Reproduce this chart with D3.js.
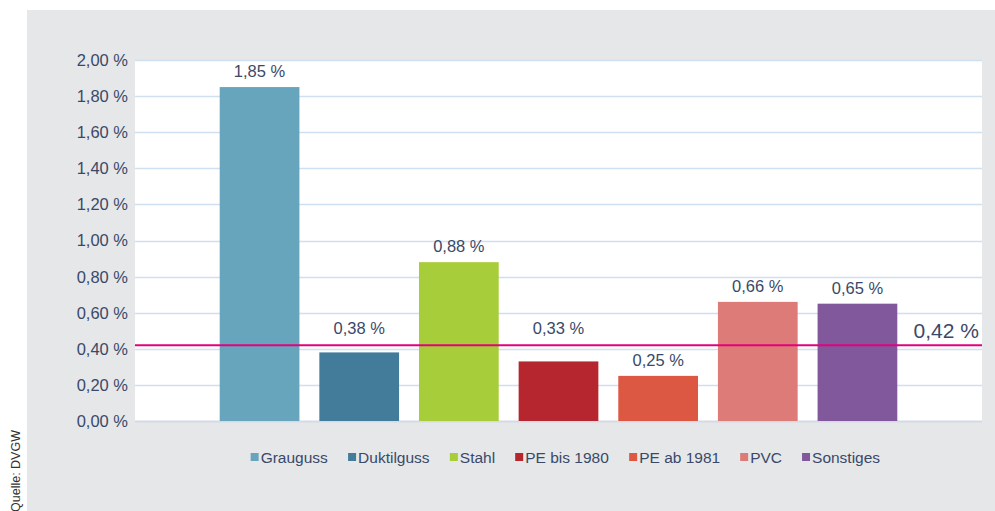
<!DOCTYPE html>
<html>
<head>
<meta charset="utf-8">
<script src="https://cdn.jsdelivr.net/npm/d3@7"></script>
<style>
  html, body { margin: 0; padding: 0; background: #fff; }
  svg { display: block; font-family: "Liberation Sans Narrow", "Liberation Sans", sans-serif; }
</style>
</head>
<body>
<div id="chart"></div>
<script>
// data
const categories = ["Grauguss", "Duktilguss", "Stahl", "PE bis 1980", "PE ab 1981", "PVC", "Sonstiges"];
const values = [1.85, 0.38, 0.88, 0.33, 0.25, 0.66, 0.65];
const colors = ["#67a5bd", "#437b9b", "#a8cd3a", "#b5262e", "#dd5842", "#dd7b79", "#82589c"];
const yTicks = [0, 0.2, 0.4, 0.6, 0.8, 1.0, 1.2, 1.4, 1.6, 1.8, 2.0];
const average = 0.42;
const source = "Quelle: DVGW";

const W = 995, H = 511;
const textColor = "#3a4968";
const fmt = v => d3.format(".2f")(v).replace(".", ",") + " %";

const svg = d3.select("#chart").append("svg")
  .attr("width", W)
  .attr("height", H);

// gray panel
svg.append("rect")
  .attr("x", 27).attr("y", 10)
  .attr("width", W - 27).attr("height", H - 10)
  .attr("fill", "#e6e7e9");

const plot = { left: 135, right: 982, top: 60, bottom: 421 };

svg.append("rect")
  .attr("x", plot.left).attr("y", plot.top)
  .attr("width", plot.right - plot.left).attr("height", plot.bottom - plot.top)
  .attr("fill", "#fff");

const y = d3.scaleLinear().domain([0, 2]).range([plot.bottom, plot.top]);
const x = d3.scaleBand()
  .domain(categories)
  .range([plot.left, plot.right])
  .paddingInner(0.2)
  .paddingOuter(0.85);

// gridlines
svg.append("g")
  .selectAll("line")
  .data(yTicks)
  .join("line")
    .attr("x1", plot.left).attr("x2", plot.right)
    .attr("y1", d => Math.round(y(d)) + 0.5)
    .attr("y2", d => Math.round(y(d)) + 0.5)
    .attr("stroke", d => d === 0 ? "#d3dbe6" : "#cfe0f0")
    .attr("stroke-width", d => d === 0 ? 2 : 1.5);

// y tick labels
svg.append("g")
  .selectAll("text")
  .data(yTicks)
  .join("text")
    .attr("x", 128)
    .attr("y", d => y(d))
    .attr("dy", "0.36em")
    .attr("text-anchor", "end")
    .attr("font-size", 16.5)
    .attr("fill", textColor)
    .text(fmt);

// bars
const data = categories.map((c, i) => ({ cat: c, value: values[i], color: colors[i] }));

svg.append("g")
  .selectAll("rect")
  .data(data)
  .join("rect")
    .attr("x", d => x(d.cat))
    .attr("y", d => y(d.value))
    .attr("width", x.bandwidth())
    .attr("height", d => y(0) - y(d.value))
    .attr("fill", d => d.color);

// average line
svg.append("line")
  .attr("x1", plot.left).attr("x2", plot.right)
  .attr("y1", y(average)).attr("y2", y(average))
  .attr("stroke", "#e4007d")
  .attr("stroke-width", 2);

svg.append("text")
  .attr("x", 979)
  .attr("y", y(average) - 15)
  .attr("dy", "0.36em")
  .attr("text-anchor", "end")
  .attr("font-size", 21)
  .attr("fill", textColor)
  .text(fmt(average));

// value labels (kept clear of the average line)
svg.append("g")
  .selectAll("text")
  .data(data)
  .join("text")
    .attr("x", d => x(d.cat) + x.bandwidth() / 2)
    .attr("y", d => {
      let ly = y(d.value) - 16;
      if (Math.abs(ly - y(average)) < 12) ly = y(average) - 17;
      return ly;
    })
    .attr("dy", "0.36em")
    .attr("text-anchor", "middle")
    .attr("font-size", 16.5)
    .attr("fill", textColor)
    .text(d => fmt(d.value));

// legend
const legend = svg.append("g");
const items = legend.selectAll("g")
  .data(data)
  .join("g");

items.append("rect")
  .attr("width", 8).attr("height", 8)
  .attr("y", -4)
  .attr("fill", d => d.color);

items.append("text")
  .attr("x", 10)
  .attr("dy", "0.36em")
  .attr("font-size", 15.5)
  .attr("fill", textColor)
  .text(d => d.cat);

let lx = 0;
const widths = [];
items.each(function () {
  widths.push(this.getBBox().width);
});
const gap = 20;
const total = d3.sum(widths) + gap * (widths.length - 1);
lx = (plot.left + plot.right) / 2 - total / 2 + 7;
items.attr("transform", (d, i) => {
  const tx = lx;
  lx += widths[i] + gap;
  return `translate(${tx},457)`;
});

// source
svg.append("text")
  .attr("transform", "translate(20,512) rotate(-90)")
  .attr("font-size", 12.5)
  .attr("fill", "#333")
  .text(source);
</script>
</body>
</html>
